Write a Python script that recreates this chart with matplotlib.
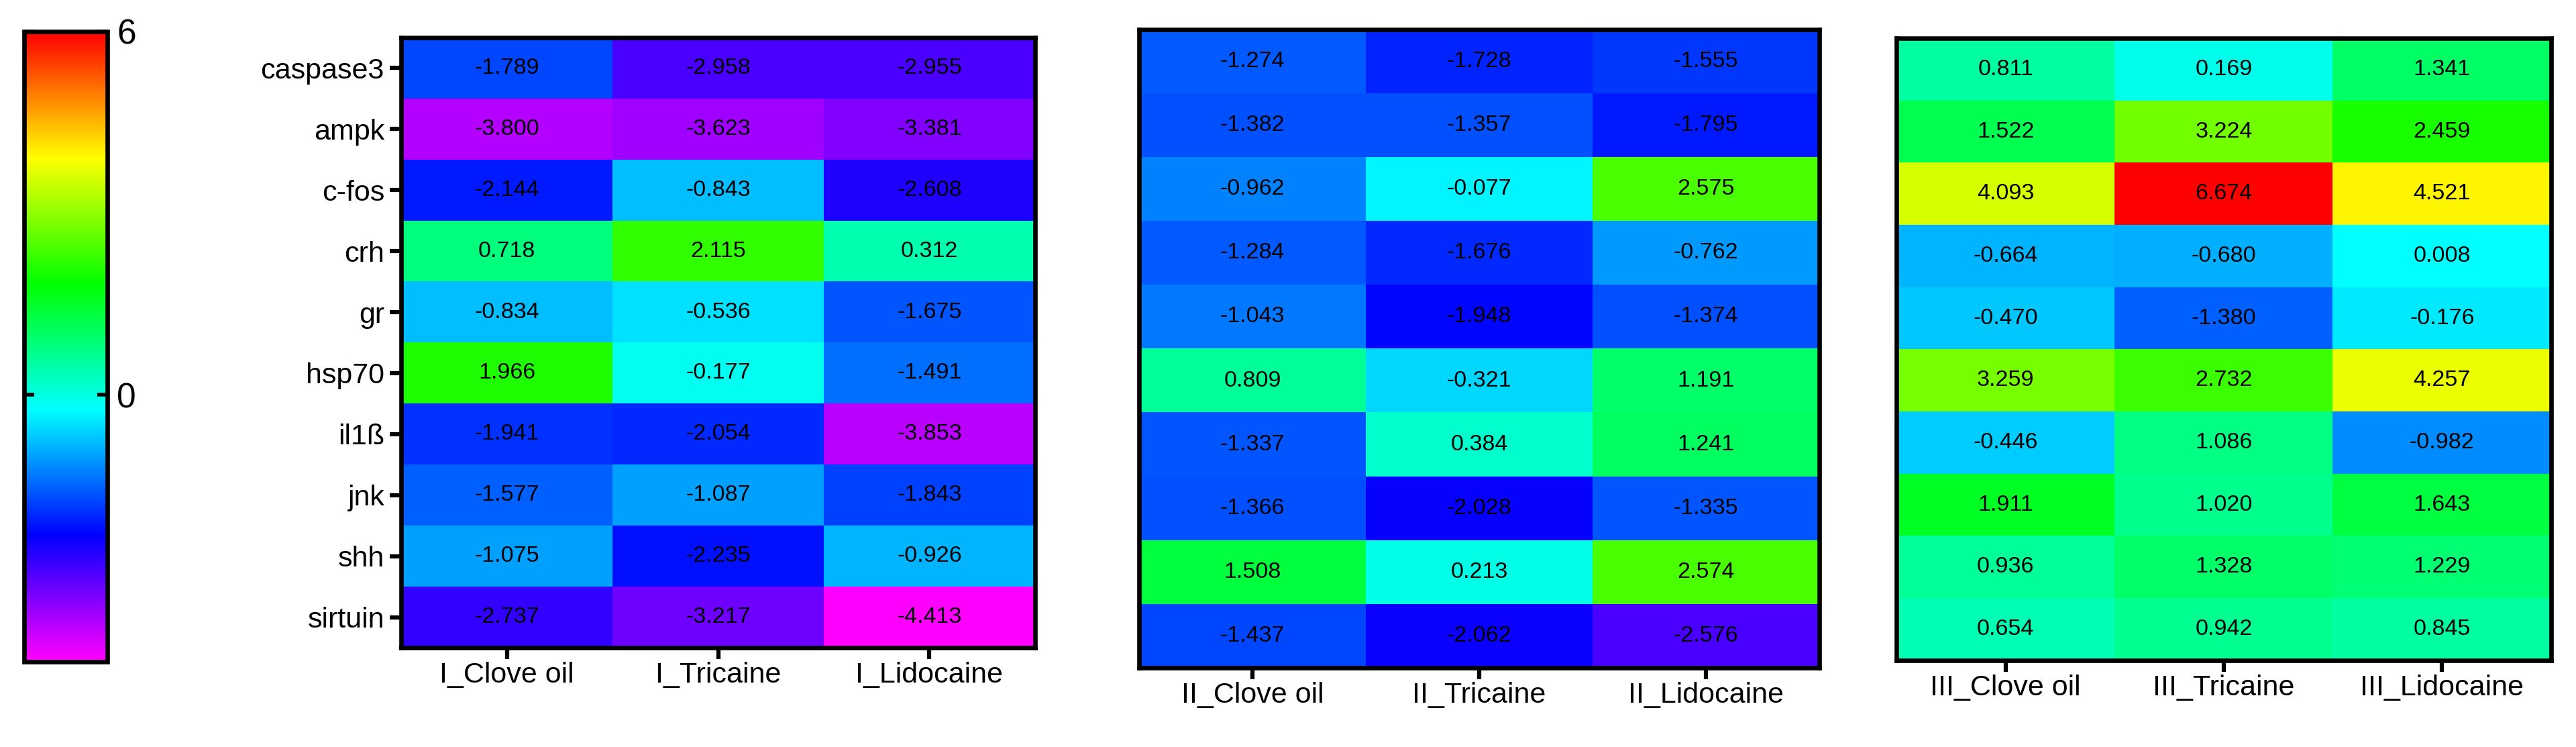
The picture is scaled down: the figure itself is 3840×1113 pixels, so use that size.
import numpy as np
import matplotlib
matplotlib.use('Agg')
import matplotlib.pyplot as plt
from matplotlib.colors import LinearSegmentedColormap, Normalize
from matplotlib.cm import ScalarMappable

plt.rcParams['font.family'] = ['Liberation Sans', 'DejaVu Sans']

genes = ['caspase3', 'ampk', 'c-fos', 'crh', 'gr', 'hsp70', 'il1ß', 'jnk', 'shh', 'sirtuin']
treat = ['Clove oil', 'Tricaine', 'Lidocaine']
stages = ['I', 'II', 'III']

stage1 = [[-1.789, -2.958, -2.955],
          [-3.800, -3.623, -3.381],
          [-2.144, -0.843, -2.608],
          [0.718, 2.115, 0.312],
          [-0.834, -0.536, -1.675],
          [1.966, -0.177, -1.491],
          [-1.941, -2.054, -3.853],
          [-1.577, -1.087, -1.843],
          [-1.075, -2.235, -0.926],
          [-2.737, -3.217, -4.413]]

stage2 = [[-1.274, -1.728, -1.555],
          [-1.382, -1.357, -1.795],
          [-0.962, -0.077, 2.575],
          [-1.284, -1.676, -0.762],
          [-1.043, -1.948, -1.374],
          [0.809, -0.321, 1.191],
          [-1.337, 0.384, 1.241],
          [-1.366, -2.028, -1.335],
          [1.508, 0.213, 2.574],
          [-1.437, -2.062, -2.576]]

stage3 = [[0.811, 0.169, 1.341],
          [1.522, 3.224, 2.459],
          [4.093, 6.674, 4.521],
          [-0.664, -0.680, 0.008],
          [-0.470, -1.380, -0.176],
          [3.259, 2.732, 4.257],
          [-0.446, 1.086, -0.982],
          [1.911, 1.020, 1.643],
          [0.936, 1.328, 1.229],
          [0.654, 0.942, 0.845]]

cbar_ticks = [0, 6]

cmap = LinearSegmentedColormap.from_list(
    'prism', ['#FF00FF', '#0000FF', '#00FFFF', '#00FF00', '#FFFF00', '#FF0000'])

W, H = 3841, 1113
fig = plt.figure(figsize=(W / 100, H / 100), dpi=100)


def px(l, t, r, b):
    return [l / W, (H - b) / H, (r - l) / W, (b - t) / H]


panels = [
    (stage1, px(598, 56, 1543, 965), (-4.413, 5.82), True),
    (stage2, px(1698, 44, 2712, 995), (-4.0, 6.0), False),
    (stage3, px(2827, 57, 3803, 984), (-4.45, 6.674), False),
]

for i, (vals, rect, lims, show_y) in enumerate(panels):
    ax = fig.add_axes(rect)
    data = np.array(vals)
    ax.imshow(data, cmap=cmap, norm=Normalize(*lims), aspect='auto',
              interpolation='nearest')
    for r in range(data.shape[0]):
        for c in range(data.shape[1]):
            ax.text(c, r, f'{data[r, c]:.3f}', ha='center', va='center',
                    fontsize=24.5, color='black')
    ax.set_xticks(range(len(treat)))
    ax.set_xticklabels([stages[i] + '_' + t for t in treat], fontsize=31)
    if show_y:
        ax.set_yticks(range(len(genes)))
        ax.set_yticklabels(genes, fontsize=31)
        ax.tick_params(axis='y', length=12, width=4.5, pad=6)
    else:
        ax.set_yticks([])
    ax.tick_params(axis='x', length=12, width=4.5, pad=3)
    for s in ax.spines.values():
        s.set_linewidth(4.8)

cax = fig.add_axes(px(36, 47, 160, 986))
sm = ScalarMappable(norm=Normalize(-4.413, 6), cmap=cmap)
cb = fig.colorbar(sm, cax=cax, ticks=cbar_ticks)
cb.outline.set_linewidth(4.8)
cax.tick_params(direction='in', left=True, right=True, length=11, width=4,
                labelsize=37, pad=10)

fig.savefig('out.png', dpi=100)
